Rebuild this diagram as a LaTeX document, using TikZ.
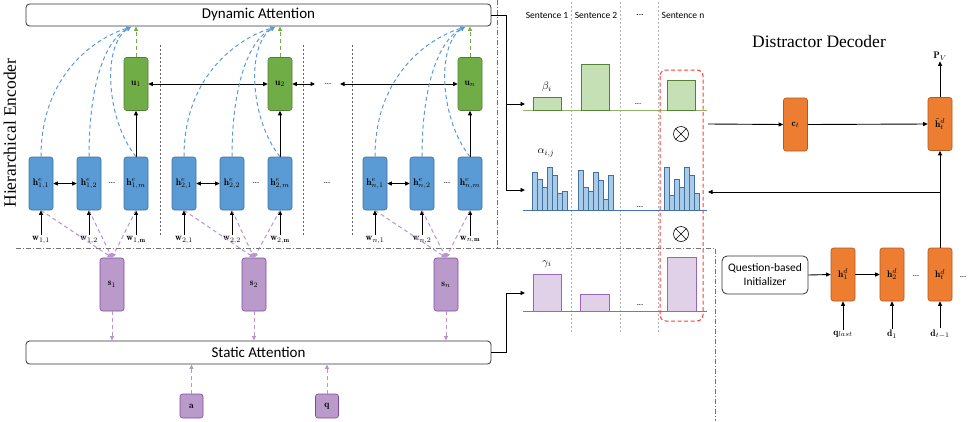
\documentclass[tikz,border=0pt]{standalone}
\usepackage{fontspec}
\usepackage{amsmath}
\newfontfamily\carl{Carlito}
\newfontfamily\tnr{Liberation Serif}
\usetikzlibrary{arrows.meta,calc}
\definecolor{ugreen}{HTML}{70AD47}
\definecolor{ugreenD}{HTML}{507E32}
\definecolor{hblue}{HTML}{5B9BD5}
\definecolor{hblueD}{HTML}{41719C}
\definecolor{dorange}{HTML}{ED7D31}
\definecolor{dorangeD}{HTML}{AE5A21}
\definecolor{spurple}{HTML}{B99ACB}
\definecolor{spurpleD}{HTML}{7F4AA0}
\definecolor{gbarF}{HTML}{C5E0B4}
\definecolor{gbarD}{HTML}{548235}
\definecolor{gbase}{HTML}{8DB36B}
\definecolor{bbarF}{HTML}{A9CBEA}
\definecolor{bbarD}{HTML}{41719C}
\definecolor{bbase}{HTML}{4472C4}
\definecolor{pbarF}{HTML}{E0D0E8}
\definecolor{pbarD}{HTML}{9966BB}
\definecolor{bdashc}{HTML}{5B9BD5}
\definecolor{gdashc}{HTML}{70AD47}
\definecolor{pdashc}{HTML}{B895D0}
\definecolor{redbox}{HTML}{FF3B3B}
\begin{document}
\begin{tikzpicture}[x=1pt,y=-1pt,
  >={Triangle[length=4.5pt,width=4pt]},
  cell/.style={rectangle, rounded corners=2.5pt, minimum width=24pt, minimum height=53pt, inner sep=0pt, line width=0.6pt, font=\fontsize{9.5}{10}\selectfont},
  gcell/.style={cell, fill=ugreen, draw=ugreenD},
  bcell/.style={cell, fill=hblue, draw=hblueD},
  ocell/.style={cell, fill=dorange, draw=dorangeD},
  pcell/.style={cell, fill=spurple, draw=spurpleD},
  attbox/.style={draw=black!80, line width=0.8pt, rounded corners=3.5pt, minimum width=465pt, minimum height=22pt, inner sep=0pt, font=\carl\fontsize{15}{17}\selectfont},
  arr/.style={->, line width=0.9pt},
  darr/.style={<->, line width=0.9pt},
  bdash/.style={->, draw=bdashc, dash pattern=on 4pt off 3pt, line width=1pt},
  gdash/.style={->, draw=gdashc, dash pattern=on 4pt off 3pt, line width=1pt},
  pdash/.style={->, draw=pdashc, dash pattern=on 4pt off 3pt, line width=1pt},
  lab/.style={inner sep=1pt, font=\fontsize{9.5}{10}\selectfont},
  dots/.style={inner sep=0pt, font=\carl\fontsize{8.5}{9}\selectfont},
  sent/.style={inner sep=0pt, font=\carl\fontsize{9.5}{11}\selectfont},
  otimesnode/.style={circle, draw, line width=0.6pt, minimum size=15pt, inner sep=0pt},
  sepline/.style={draw=black!60, dash pattern=on 2pt off 2pt, line width=0.5pt},
  colline/.style={draw=black!30, dash pattern=on 2pt off 2pt, line width=0.6pt},
  frameline/.style={draw=black!55, dash pattern=on 5pt off 2pt on 1pt off 2pt, line width=0.8pt}
]
\useasboundingbox (0,0) rectangle (969,421);

% attention boxes
\node[attbox] (dyn) at (258.5,15) {Dynamic Attention};
\node[attbox, minimum height=23pt] (stat) at (258.5,352.5) {Static Attention};

% titles
\node[rotate=90, inner sep=0pt, font=\tnr\fontsize{17.5}{18}\selectfont] (hiertitle) at (10,133) {Hierarchical Encoder};
\node[inner sep=0pt, font=\tnr\fontsize{17.5}{18}\selectfont] (dectitle) at (819,42) {Distractor Decoder};

% section separators
\draw[sepline] (160,45) -- (160,235);
\draw[sepline] (303,45) -- (303,235);
\draw[sepline] (352,45) -- (352,235);

% u nodes
\node[gcell] (u1) at (136,84) {$\mathbf{u}_1$};
\node[gcell] (u2) at (280,84) {$\mathbf{u}_2$};
\node[gcell] (un) at (470,84) {$\mathbf{u}_n$};

% h nodes
\node[bcell] (h11) at (41,183.5) {$\mathbf{h}^e_{1,1}$};
\node[bcell] (h12) at (89,183.5) {$\mathbf{h}^e_{1,2}$};
\node[bcell] (h1m) at (136,183.5) {$\mathbf{h}^e_{1,m}$};
\node[bcell] (h21) at (184,183.5) {$\mathbf{h}^e_{2,1}$};
\node[bcell] (h22) at (232,183.5) {$\mathbf{h}^e_{2,2}$};
\node[bcell] (h2m) at (280,183.5) {$\mathbf{h}^e_{2,m}$};
\node[bcell] (hn1) at (375,183.5) {$\mathbf{h}^e_{n,1}$};
\node[bcell] (hn2) at (422,183.5) {$\mathbf{h}^e_{n,2}$};
\node[bcell] (hnm) at (470,183.5) {$\mathbf{h}^e_{n,m}$};

% dots
\node[dots] (dt1) at (112,183) {...};
\node[dots] (dt2) at (256,183) {...};
\node[dots] (dt3) at (327,183) {...};
\node[dots] (dt4) at (447,183) {...};
\node[dots] (dt5) at (328,84) {...};

% w labels
\node[lab] (w11) at (41,240) {$\mathbf{w}_{1,1}$};
\node[lab] (w12) at (89,240) {$\mathbf{w}_{1,2}$};
\node[lab] (w1m) at (136,240) {$\mathbf{w}_{1,\mathbf{m}}$};
\node[lab] (w21) at (184,240) {$\mathbf{w}_{2,1}$};
\node[lab] (w22) at (232,240) {$\mathbf{w}_{2,2}$};
\node[lab] (w2m) at (280,240) {$\mathbf{w}_{2,\mathbf{m}}$};
\node[lab] (wn1) at (375,240) {$\mathbf{w}_{n,1}$};
\node[lab] (wn2) at (422,240) {$\mathbf{w}_{n,2}$};
\node[lab] (wnm) at (470,240) {$\mathbf{w}_{n,\mathbf{m}}$};
\foreach \n in {11,12,1m,21,22,2m,n1,n2,nm}{
  \draw[arr] (w\n.north) -- (h\n.south);
}

% horizontal arrows
\draw[darr] (h11.east) -- (h12.west);
\draw[darr] (h21.east) -- (h22.west);
\draw[darr] (hn1.east) -- (hn2.west);
\coordinate (ua) at (315,84);
\coordinate (ub) at (340,84);
\draw[darr] (u1.east) -- (u2.west);
\draw[darr] (u2.east) -- (ua);
\draw[darr] (ub) -- (un.west);

% h_m to u
\draw[arr] (h1m.north) -- (u1.south);
\draw[arr] (h2m.north) -- (u2.south);
\draw[arr] (hnm.north) -- (un.south);

% green dashed
\draw[gdash] (u1.north) -- (u1.north |- dyn.south);
\draw[gdash] (u2.north) -- (u2.north |- dyn.south);
\draw[gdash] (un.north) -- (un.north |- dyn.south);

% blue dashed curves
\coordinate (bt1) at (131,27);
\coordinate (bt2) at (275,27);
\coordinate (btn) at (465,27);
\foreach \s in {1,2,n}{
  \draw[bdash] (h\s1.north) .. controls +(0,-82) and +(-36,11) .. (bt\s);
  \draw[bdash] (h\s2.north) .. controls +(0,-72) and +(-26,13) .. (bt\s);
  \draw[bdash] (h\s m.north) .. controls +(-30,-37) and +(-29,18) .. (bt\s);
}

% s nodes
\node[pcell] (s1) at (112,284.5) {$\mathbf{s}_1$};
\node[pcell] (s2) at (254,284.5) {$\mathbf{s}_2$};
\node[pcell] (sn) at (446,284.5) {$\mathbf{s}_n$};
\foreach \s in {1,2,n}{
  \draw[pdash] (h\s1.south) -- (s\s.north);
  \draw[pdash] (h\s2.south) -- (s\s.north);
  \draw[pdash] (h\s m.south) -- (s\s.north);
  \draw[pdash] (s\s.south) -- (s\s.south |- stat.north);
}

% a, q
\node[pcell, minimum height=24pt, minimum width=23pt] (a) at (191.5,406) {$\mathbf{a}$};
\node[pcell, minimum height=24pt, minimum width=23pt] (q) at (327,406) {$\mathbf{q}$};
\draw[pdash] (a.north) -- (a.north |- stat.south);
\draw[pdash] (q.north) -- (q.north |- stat.south);

% frame lines
\draw[frameline] (497,0) -- (497,248);
\draw[frameline] (16,248) -- (715,248) -- (715,421);

% column lines
\draw[colline] (571,2) -- (571,332);
\draw[colline] (620,2) -- (620,332);
\draw[colline] (658,2) -- (658,332);

% sentence labels
\node[sent] (sen1) at (547,15) {Sentence 1};
\node[sent] (sen2) at (596,15) {Sentence 2};
\node[sent] (sen3) at (640,15) {...};
\node[sent] (senn) at (683,15) {Sentence n};

% connectors from attention boxes
\coordinate (betain) at (525,104);
\coordinate (alphain) at (525,190);
\coordinate (gammain) at (525,293);
\draw[line width=0.9pt] (dyn.east) -- (506,15) -- (506,104);
\draw[arr] (506,104) -- (betain);
\draw[arr] (506,104) -- (506,190) -- (alphain);
\draw[arr] (stat.east) -- (506,352.5) -- (506,293) -- (gammain);

% beta bars
\draw[gbase, line width=1pt] (523,110) -- (707,110);
\draw[fill=gbarF, draw=gbarD, line width=0.8pt] (533,110) rectangle (561,97);
\draw[fill=gbarF, draw=gbarD, line width=0.8pt] (581,110) rectangle (609,64);
\draw[fill=gbarF, draw=gbarD, line width=0.8pt] (667,110) rectangle (695,80);
\node[dots] (bdots) at (638,104) {...};
\node[inner sep=0pt, font=\fontsize{11}{12}\selectfont] (betalab) at (547,87) {$\beta_i$};

% alpha bars
\draw[bbase, line width=1pt] (523,210) -- (707,210);
\foreach \h [count=\i from 0] in {172,179,187,167,175,193,191}{
  \draw[fill=bbarF, draw=bbarD, line width=0.7pt] ({532+5*\i},210) rectangle ({537+5*\i},\h);
}
\foreach \h [count=\i from 0] in {170,187,191,172,180,199,175}{
  \draw[fill=bbarF, draw=bbarD, line width=0.7pt] ({578+5*\i},210) rectangle ({583+5*\i},\h);
}
\foreach \h [count=\i from 0] in {167,195,179,187,167,175,193}{
  \draw[fill=bbarF, draw=bbarD, line width=0.7pt] ({664+5*\i},210) rectangle ({669+5*\i},\h);
}
\node[dots] (adots) at (640,207) {...};
\node[inner sep=0pt, font=\fontsize{11}{12}\selectfont] (alphalab) at (546,153) {$\alpha_{i,j}$};

% gamma bars
\draw[pbarD, line width=1pt] (523,311) -- (707,311);
\draw[fill=pbarF, draw=pbarD, line width=0.9pt] (533,311) rectangle (561,274);
\draw[fill=pbarF, draw=pbarD, line width=0.9pt] (580,311) rectangle (609,294);
\draw[fill=pbarF, draw=pbarD, line width=0.9pt] (667,311) rectangle (696,257);
\node[dots] (gdots) at (640,305) {...};
\node[inner sep=0pt, font=\fontsize{11}{12}\selectfont] (gammalab) at (547,264) {$\gamma_i$};

% otimes
\node[otimesnode] (ot1) at (681,134) {};
\node[otimesnode] (ot2) at (681,234) {};
\foreach \o in {ot1,ot2}{
  \draw[line width=0.6pt] (\o.north west) -- (\o.south east) (\o.north east) -- (\o.south west);
}

% red dashed box
\draw[redbox, dash pattern=on 4pt off 2.5pt, line width=1pt, rounded corners=6pt] (660,70) rectangle (703,321);

% decoder
\node[ocell] (ct) at (795.5,124.5) {$\mathbf{c}_t$};
\node[ocell] (ht) at (940,124) {$\tilde{\mathbf{h}}^d_t$};
\node[ocell] (h1d) at (843,274.5) {$\mathbf{h}^d_1$};
\node[ocell] (h2d) at (892,274.5) {$\mathbf{h}^d_2$};
\node[ocell] (htd) at (940,274.5) {$\mathbf{h}^d_t$};
\node[draw=black!80, line width=0.8pt, rounded corners=5pt, minimum width=86pt, minimum height=38pt, inner sep=0pt, align=center, font=\carl\fontsize{11.5}{14}\selectfont] (init) at (765,275) {Question-based\\Initializer};
\node[dots] (ddots1) at (916,276) {...};
\node[dots] (ddots2) at (963,277) {...};

\coordinate (ctin) at (708,124);
\coordinate (alphaback) at (708,192);
\draw[arr] (ctin) -- (ct.west);
\draw[arr] (ct.east) -- (ht.west);
\draw[arr] (htd.north) -- (ht.south);
\draw[arr] (ht.south |- alphaback) -- (alphaback);
\node[lab] (pv) at (940,56) {$\mathbf{P}_V$};
\draw[arr] (ht.north) -- (pv.south);

\draw[arr] (init.east) -- (h1d.west);
\draw[arr] (h1d.east) -- (h2d.west);

\node[lab] (ql) at (843,334) {$\mathbf{q}_{last}$};
\node[lab] (d1) at (892,334) {$\mathbf{d}_1$};
\node[lab] (dt) at (940,334) {$\mathbf{d}_{t-1}$};
\draw[arr] (ql.north) -- (h1d.south);
\draw[arr] (d1.north) -- (h2d.south);
\draw[arr] (dt.north) -- (htd.south);

\end{tikzpicture}
\end{document}
